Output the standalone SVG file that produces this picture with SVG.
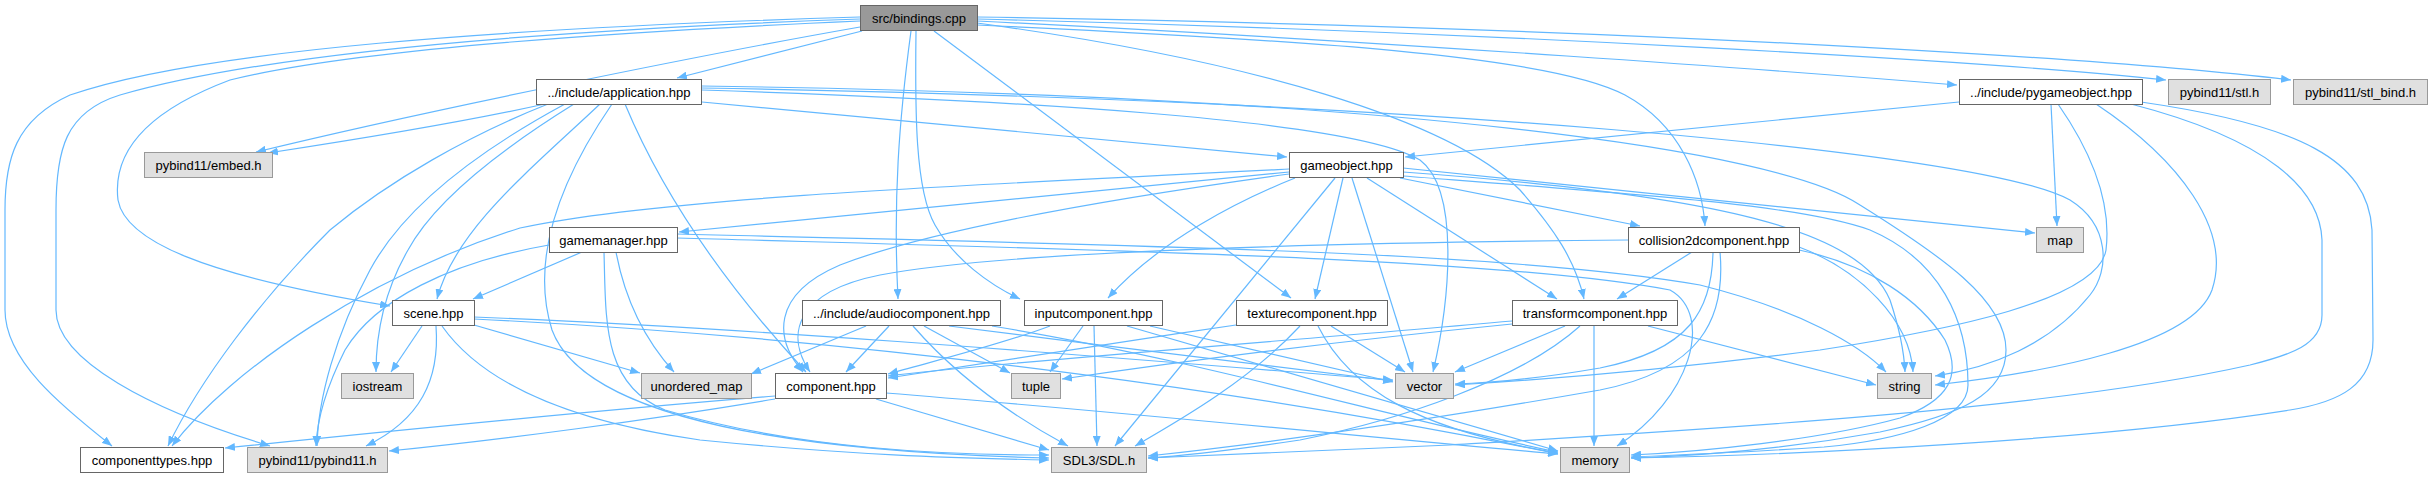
<svg xmlns="http://www.w3.org/2000/svg" width="2432" height="478" viewBox="0 0 2432 478">
<defs>
<style>
.e{fill:none;stroke:#63b8ff;stroke-width:1.2;marker-end:url(#a)}
.n rect{fill:#ffffff;stroke:#666666;stroke-width:1}
.x rect{fill:#e0e0e0;stroke:#999999;stroke-width:1}
.r rect{fill:#999999;stroke:#666666;stroke-width:1}
text{font-family:"Liberation Sans",Arial,Helvetica,sans-serif;font-size:13px;fill:#000;text-anchor:middle}
</style>
<marker id="a" markerWidth="10" markerHeight="8" refX="10" refY="4" orient="auto" markerUnits="userSpaceOnUse"><path d="M0,0 L10,4 L0,8 z" fill="#63b8ff"/></marker>
</defs>
<rect width="2432" height="478" fill="#ffffff"/>
<g id="edges">
<path class="e" d="M862,31 L677,78"/>
<path class="e" d="M860,27 C700,55 420,112 256,152"/>
<path class="e" d="M860,21 C540,35 330,55 230,80 C150,110 112,150 118,200 C125,240 200,275 390,306"/>
<path class="e" d="M860,17 C500,28 200,50 70,95 C15,120 5,160 5,210 L5,310 C5,360 60,405 112,446"/>
<path class="e" d="M860,19 C520,31 260,55 120,95 C65,112 56,150 56,210 L56,310 C56,360 150,410 270,446"/>
<path class="e" d="M911,31 C899,120 893,200 898,299"/>
<path class="e" d="M916,31 C915,110 915,190 935,225 C955,260 990,285 1020,299"/>
<path class="e" d="M934,31 L1291,298"/>
<path class="e" d="M977,23 C1250,60 1450,120 1520,190 C1555,230 1575,260 1584,299"/>
<path class="e" d="M977,25 C1300,40 1550,55 1625,95 C1680,125 1702,180 1705,226"/>
<path class="e" d="M977,21 C1400,42 1800,72 1957,85"/>
<path class="e" d="M977,19 C1500,32 2000,62 2166,80"/>
<path class="e" d="M977,17 C1600,27 2100,57 2291,80"/>
<path class="e" d="M545,104 C450,125 340,142 268,153"/>
<path class="e" d="M702,102 L1287,157"/>
<path class="e" d="M600,104 C530,170 455,230 437,299"/>
<path class="e" d="M548,104 C470,135 390,180 330,230 C260,300 200,380 168,446"/>
<path class="e" d="M565,104 C480,150 405,205 370,270 C335,335 318,400 317,446"/>
<path class="e" d="M574,104 C500,150 435,200 408,250 C385,290 376,330 376,372"/>
<path class="e" d="M612,104 C560,180 530,260 552,330 C585,420 800,452 1049,458"/>
<path class="e" d="M625,104 C665,200 730,290 806,372"/>
<path class="e" d="M702,90 C1000,100 1350,118 1420,160 C1460,190 1450,300 1433,372"/>
<path class="e" d="M702,88 C1400,100 1980,150 2070,200 C2110,225 2110,270 2090,295 C2050,345 1990,368 1935,376"/>
<path class="e" d="M702,86 C1400,96 1780,150 1860,205 C1940,255 2006,300 2006,350 C2006,395 1960,415 1880,432 C1780,450 1700,456 1631,458"/>
<path class="e" d="M1289,172 L679,232"/>
<path class="e" d="M1289,169 C900,188 650,200 520,228 C370,275 230,370 172,446"/>
<path class="e" d="M1289,174 C1100,200 930,230 840,265 C770,295 775,340 803,372"/>
<path class="e" d="M1295,178 C1240,200 1160,240 1108,298"/>
<path class="e" d="M1343,178 L1315,299"/>
<path class="e" d="M1352,178 L1413,372"/>
<path class="e" d="M1367,178 L1557,299"/>
<path class="e" d="M1400,178 L1640,226"/>
<path class="e" d="M1403,168 L2035,233"/>
<path class="e" d="M1403,172 C1720,195 1860,230 1890,300 C1900,330 1904,350 1905,372"/>
<path class="e" d="M1403,176 C1650,195 1800,205 1870,230 C1940,260 1968,320 1968,385 C1968,420 1900,440 1824,447 C1750,452 1680,455 1631,457"/>
<path class="e" d="M1335,178 L1115,446"/>
<path class="e" d="M1959,102 L1405,157"/>
<path class="e" d="M2051,104 L2057,226"/>
<path class="e" d="M2058,104 C2090,150 2112,200 2106,250 C2098,300 1950,330 1820,350 C1650,372 1520,381 1455,385"/>
<path class="e" d="M2096,104 C2180,160 2232,230 2212,290 C2192,345 2050,372 1935,385"/>
<path class="e" d="M2141,102 C2300,125 2368,160 2372,230 L2373,340 C2373,385 2340,402 2290,410 C2100,440 1800,455 1631,458"/>
<path class="e" d="M2131,104 C2270,140 2320,190 2322,240 L2322,315 C2322,345 2290,355 2250,365 C2050,410 1700,430 1450,445 C1300,452 1200,456 1148,458"/>
<path class="e" d="M582,252 L473,299"/>
<path class="e" d="M616,252 C625,300 645,340 674,372"/>
<path class="e" d="M549,245 C450,262 375,300 345,350 C325,390 317,420 316,446"/>
<path class="e" d="M604,252 C606,320 602,385 665,410 C800,450 950,455 1049,455"/>
<path class="e" d="M677,234 C1100,245 1500,250 1700,285 C1800,310 1860,345 1886,372"/>
<path class="e" d="M677,238 C1100,250 1500,258 1670,290 C1715,315 1690,400 1617,446"/>
<path class="e" d="M1628,240 C1300,243 1000,252 880,275 C795,292 785,335 810,372"/>
<path class="e" d="M1692,252 L1617,299"/>
<path class="e" d="M1713,252 C1712,310 1690,350 1600,368 C1530,380 1490,383 1455,384"/>
<path class="e" d="M1720,252 C1726,320 1700,370 1600,390 C1400,425 1250,445 1148,456"/>
<path class="e" d="M1799,247 C1860,270 1910,320 1913,372"/>
<path class="e" d="M1799,250 C1870,265 1920,300 1945,340 C1962,375 1950,400 1900,418 C1820,440 1700,452 1631,455"/>
<path class="e" d="M1512,321 C1300,340 1000,362 888,376"/>
<path class="e" d="M1512,324 C1300,345 1150,366 1062,379"/>
<path class="e" d="M1565,326 L1455,372"/>
<path class="e" d="M1580,326 C1520,380 1400,420 1300,440 C1220,452 1180,456 1148,458"/>
<path class="e" d="M1594,326 L1594,446"/>
<path class="e" d="M1648,326 L1876,385"/>
<path class="e" d="M1236,325 C1100,345 950,368 888,378"/>
<path class="e" d="M1300,326 C1250,380 1180,420 1135,446"/>
<path class="e" d="M1318,326 C1350,390 1420,430 1558,453"/>
<path class="e" d="M1331,326 L1405,372"/>
<path class="e" d="M1050,326 C1000,345 930,362 888,374"/>
<path class="e" d="M1083,326 L1050,372"/>
<path class="e" d="M1094,326 L1097,446"/>
<path class="e" d="M1127,326 L1558,451"/>
<path class="e" d="M1150,326 L1393,382"/>
<path class="e" d="M866,326 L751,374"/>
<path class="e" d="M889,326 L846,372"/>
<path class="e" d="M913,326 C960,380 1020,420 1068,446"/>
<path class="e" d="M924,326 L1010,373"/>
<path class="e" d="M949,326 C1100,345 1300,370 1393,381"/>
<path class="e" d="M992,326 C1200,360 1400,420 1558,452"/>
<path class="e" d="M422,326 L391,372"/>
<path class="e" d="M474,325 L640,373"/>
<path class="e" d="M436,326 C440,380 420,420 366,446"/>
<path class="e" d="M442,326 C480,380 560,420 700,440 C850,455 950,458 1049,460"/>
<path class="e" d="M474,317 C800,330 1200,365 1393,380"/>
<path class="e" d="M474,319 C900,340 1300,400 1558,454"/>
<path class="e" d="M775,396 C600,410 400,430 225,448"/>
<path class="e" d="M775,399 C650,420 500,440 389,451"/>
<path class="e" d="M876,399 L1049,450"/>
<path class="e" d="M886,393 C1100,410 1400,440 1558,454"/>
</g>
<g id="node-bindings" class="r"><rect x="860.5" y="5.5" width="117" height="25"/><text x="919" y="23">src/bindings.cpp</text></g>
<g id="node-application" class="n"><rect x="536.5" y="79.5" width="165" height="25"/><text x="619" y="97">../include/application.hpp</text></g>
<g id="node-embed" class="x"><rect x="144.5" y="152.5" width="128" height="25"/><text x="208.5" y="170">pybind11/embed.h</text></g>
<g id="node-gameobject" class="n"><rect x="1289.5" y="152.5" width="114" height="25"/><text x="1346.5" y="170">gameobject.hpp</text></g>
<g id="node-pygameobject" class="n"><rect x="1959.5" y="79.5" width="183" height="25"/><text x="2051" y="97">../include/pygameobject.hpp</text></g>
<g id="node-stl" class="x"><rect x="2168.5" y="79.5" width="102" height="25"/><text x="2219.5" y="97">pybind11/stl.h</text></g>
<g id="node-stlbind" class="x"><rect x="2293.5" y="79.5" width="134" height="25"/><text x="2360.5" y="97">pybind11/stl_bind.h</text></g>
<g id="node-gamemanager" class="n"><rect x="549.5" y="227.5" width="128" height="25"/><text x="613.5" y="245">gamemanager.hpp</text></g>
<g id="node-collision" class="n"><rect x="1628.5" y="227.5" width="171" height="25"/><text x="1714" y="245">collision2dcomponent.hpp</text></g>
<g id="node-map" class="x"><rect x="2036.5" y="227.5" width="47" height="25"/><text x="2060" y="245">map</text></g>
<g id="node-scene" class="n"><rect x="392.5" y="300.5" width="82" height="25"/><text x="433.5" y="318">scene.hpp</text></g>
<g id="node-audio" class="n"><rect x="802.5" y="300.5" width="198" height="25"/><text x="901.5" y="318">../include/audiocomponent.hpp</text></g>
<g id="node-input" class="n"><rect x="1024.5" y="300.5" width="138" height="25"/><text x="1093.5" y="318">inputcomponent.hpp</text></g>
<g id="node-texture" class="n"><rect x="1236.5" y="300.5" width="151" height="25"/><text x="1312" y="318">texturecomponent.hpp</text></g>
<g id="node-transform" class="n"><rect x="1512.5" y="300.5" width="165" height="25"/><text x="1595" y="318">transformcomponent.hpp</text></g>
<g id="node-iostream" class="x"><rect x="341.5" y="373.5" width="72" height="25"/><text x="377.5" y="391">iostream</text></g>
<g id="node-unordered_map" class="x"><rect x="641.5" y="373.5" width="110" height="25"/><text x="696.5" y="391">unordered_map</text></g>
<g id="node-component" class="n"><rect x="775.5" y="373.5" width="111" height="25"/><text x="831" y="391">component.hpp</text></g>
<g id="node-tuple" class="x"><rect x="1011.5" y="373.5" width="49" height="25"/><text x="1036" y="391">tuple</text></g>
<g id="node-vector" class="x"><rect x="1395.5" y="373.5" width="58" height="25"/><text x="1424.5" y="391">vector</text></g>
<g id="node-string" class="x"><rect x="1877.5" y="373.5" width="54" height="25"/><text x="1904.5" y="391">string</text></g>
<g id="node-componenttypes" class="n"><rect x="80.5" y="447.5" width="143" height="25"/><text x="152" y="465">componenttypes.hpp</text></g>
<g id="node-pybind11" class="x"><rect x="247.5" y="447.5" width="140" height="25"/><text x="317.5" y="465">pybind11/pybind11.h</text></g>
<g id="node-sdl" class="x"><rect x="1051.5" y="447.5" width="95" height="25"/><text x="1099" y="465">SDL3/SDL.h</text></g>
<g id="node-memory" class="x"><rect x="1560.5" y="447.5" width="69" height="25"/><text x="1595" y="465">memory</text></g>
</svg>
